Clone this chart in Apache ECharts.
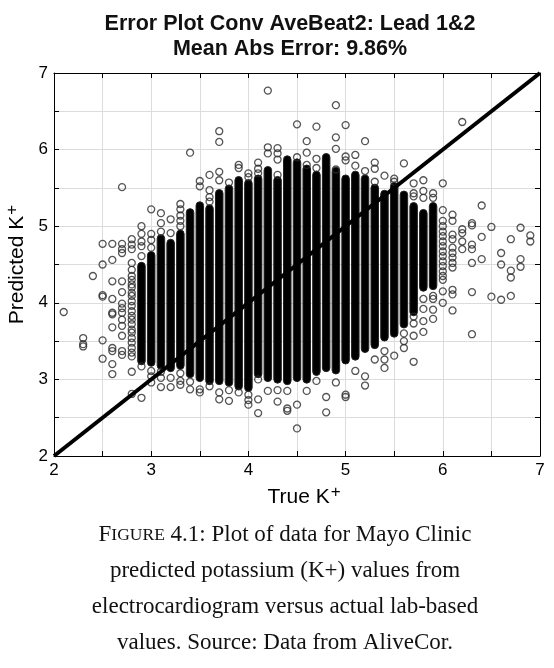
<!DOCTYPE html>
<html>
<head>
<meta charset="utf-8">
<script src="https://cdn.jsdelivr.net/npm/echarts@6/dist/echarts.min.js"></script>
<style>
  html, body { margin: 0; padding: 0; background: #fff; }
  #chart { width: 554px; height: 668px; }
</style>
</head>
<body>
<div id="chart"></div>
<script>
// dense columns: true K+ value, lowest and highest predicted value of the solid stack
var denseX  = [2.9, 3.0, 3.1, 3.2, 3.3, 3.4, 3.5, 3.6, 3.7, 3.8, 3.9, 4.0, 4.1, 4.2, 4.3, 4.4,
               4.5, 4.6, 4.7, 4.8, 4.9, 5.0, 5.1, 5.2, 5.3, 5.4, 5.5, 5.6, 5.7, 5.8, 5.9];
var denseLo = [3.24, 3.22, 3.18, 3.15, 3.18, 3.07, 3.02, 2.98, 2.98, 2.96, 2.91, 2.89, 3.07, 3.02, 3.0, 2.98,
               3.02, 3.0, 3.1, 3.15, 3.12, 3.25, 3.3, 3.4, 3.45, 3.55, 3.6, 3.72, 3.88, 4.2, 4.22];
var denseHi = [4.48, 4.62, 4.84, 4.78, 4.90, 5.18, 5.27, 5.23, 5.43, 5.49, 5.60, 5.56, 5.62, 5.73, 5.60, 5.87,
               5.83, 5.75, 5.67, 5.90, 5.72, 5.62, 5.67, 5.62, 5.50, 5.42, 5.52, 5.41, 5.26, 5.17, 5.26];

// single circles on the low K+ side
var leftPoints = [
  [2.1, 3.88], [2.3, 3.54], [2.3, 3.46], [2.3, 3.43], [2.4, 4.35],
  [2.5, 4.77], [2.5, 4.50], [2.5, 4.10], [2.5, 4.08], [2.5, 3.51], [2.5, 3.27],
  [2.6, 4.77], [2.6, 4.56], [2.6, 4.28], [2.6, 4.05], [2.6, 3.87], [2.6, 3.85], [2.6, 3.68],
  [2.6, 3.41], [2.6, 3.37], [2.6, 3.20], [2.6, 3.07],
  [2.7, 5.51], [2.7, 4.77], [2.7, 4.70], [2.7, 4.65], [2.7, 4.28], [2.7, 4.14], [2.7, 3.99],
  [2.7, 3.93], [2.7, 3.87], [2.7, 3.78], [2.7, 3.70], [2.7, 3.57], [2.7, 3.37], [2.7, 3.32],
  [2.8, 4.83], [2.8, 4.76], [2.8, 4.70], [2.8, 4.52], [2.8, 4.43], [2.8, 4.35], [2.8, 4.30],
  [2.8, 4.24], [2.8, 4.20], [2.8, 4.13], [2.8, 4.09], [2.8, 4.02], [2.8, 3.96], [2.8, 3.89],
  [2.8, 3.83], [2.8, 3.78], [2.8, 3.72], [2.8, 3.65], [2.8, 3.61], [2.8, 3.54], [2.8, 3.48],
  [2.8, 3.41], [2.8, 3.35], [2.8, 3.30], [2.8, 3.10], [2.8, 2.81]
];

// circles above the solid stacks
var upperPoints = [
  [2.9, 5.00], [2.9, 4.90], [2.9, 4.80], [2.9, 4.74], [2.9, 4.61],
  [3.0, 5.22], [3.0, 4.90], [3.0, 4.82], [3.0, 4.72],
  [3.1, 5.17], [3.1, 5.04], [3.1, 4.93], [3.2, 5.09], [3.2, 4.91],
  [3.3, 5.29], [3.3, 5.22], [3.3, 5.14], [3.3, 5.07], [3.3, 5.00],
  [3.4, 5.96], [3.5, 5.59], [3.5, 5.52],
  [3.6, 5.67], [3.6, 5.47], [3.6, 5.38], [3.6, 5.32],
  [3.7, 6.24], [3.7, 6.10], [3.7, 5.71], [3.7, 5.60], [3.8, 5.57],
  [3.9, 5.80], [3.9, 5.76], [4.0, 5.69], [4.0, 5.64],
  [4.1, 5.83], [4.1, 5.75], [4.1, 5.69], [4.2, 6.77], [4.2, 6.03], [4.2, 5.95],
  [4.3, 6.02], [4.3, 5.95], [4.3, 5.87], [4.3, 5.67], [4.5, 6.33], [4.5, 5.90],
  [4.6, 6.11], [4.6, 5.96], [4.6, 5.80], [4.7, 6.30], [4.7, 5.88], [4.7, 5.76],
  [4.9, 6.58], [4.9, 6.16], [4.9, 6.01], [4.9, 5.74],
  [5.0, 6.32], [5.0, 5.91], [5.0, 5.86], [5.1, 5.93], [5.1, 5.79],
  [5.2, 6.11], [5.2, 5.72], [5.3, 5.83], [5.3, 5.75], [5.3, 5.58],
  [5.4, 5.66], [5.5, 5.62], [5.5, 5.58], [5.6, 5.82],
  [5.7, 5.56], [5.7, 5.43], [5.7, 5.39], [5.8, 5.60], [5.8, 5.46], [5.8, 5.37],
  [5.9, 5.43], [5.9, 5.37]
];

// circles below the solid stacks
var lowerPoints = [
  [2.9, 3.17], [2.9, 2.76], [3.0, 3.11], [3.0, 3.04], [3.0, 2.96],
  [3.1, 3.10], [3.1, 3.02], [3.1, 2.90], [3.2, 3.02], [3.2, 2.90],
  [3.3, 3.08], [3.3, 2.98], [3.3, 2.93], [3.4, 2.97], [3.4, 2.87],
  [3.5, 2.87], [3.5, 2.83], [3.6, 2.91], [3.7, 2.83], [3.7, 2.74],
  [3.8, 2.86], [3.8, 2.72], [3.9, 2.83], [4.0, 2.80], [4.0, 2.73], [4.0, 2.67],
  [4.1, 3.00], [4.1, 2.74], [4.1, 2.56], [4.2, 2.85], [4.3, 2.86], [4.3, 2.71],
  [4.4, 2.85], [4.4, 2.62], [4.4, 2.59], [4.5, 2.67], [4.5, 2.36], [4.6, 2.85],
  [4.7, 2.98], [4.8, 2.77], [4.8, 2.57], [4.9, 2.96], [5.0, 2.80], [5.0, 2.77],
  [5.1, 3.11], [5.2, 3.04], [5.2, 2.92], [5.3, 3.26],
  [5.4, 3.37], [5.4, 3.26], [5.4, 3.15], [5.5, 3.31],
  [5.6, 3.60], [5.6, 3.50], [5.6, 3.41], [5.7, 3.82], [5.7, 3.73], [5.7, 3.57], [5.7, 3.23],
  [5.8, 4.05], [5.8, 3.92], [5.8, 3.76], [5.8, 3.62], [5.9, 4.09], [5.9, 4.05], [5.9, 3.91], [5.9, 3.79]
];

// circles on the high K+ side
var rightPoints = [
  [6.0, 5.56], [6.0, 5.21], [6.0, 5.07], [6.0, 5.00], [6.0, 4.93], [6.0, 4.87], [6.0, 4.80],
  [6.0, 4.74], [6.0, 4.67], [6.0, 4.61], [6.0, 4.54], [6.0, 4.48], [6.0, 4.41], [6.0, 4.35],
  [6.0, 4.30], [6.0, 4.15], [6.0, 4.00],
  [6.1, 5.15], [6.1, 5.07], [6.1, 4.89], [6.1, 4.83], [6.1, 4.72], [6.1, 4.65], [6.1, 4.59],
  [6.1, 4.52], [6.1, 4.46], [6.1, 4.17], [6.1, 4.11], [6.1, 3.90],
  [6.2, 6.36], [6.2, 4.96], [6.2, 4.91], [6.2, 4.80], [6.2, 4.70],
  [6.3, 5.04], [6.3, 5.01], [6.3, 4.76], [6.3, 4.70], [6.3, 4.52], [6.3, 4.14], [6.3, 3.59],
  [6.4, 5.27], [6.4, 4.86], [6.4, 4.57], [6.5, 4.99], [6.5, 4.08],
  [6.6, 4.65], [6.6, 4.50], [6.6, 4.04], [6.7, 4.83], [6.7, 4.42], [6.7, 4.33], [6.7, 4.09],
  [6.8, 4.98], [6.8, 4.57], [6.8, 4.47], [6.9, 4.88], [6.9, 4.80]
];

var identityLine = [[2, 2], [7, 7]];

var captionLines = [
  '{sc1|F}{sc2|IGURE} 4.1: Plot of data for Mayo Clinic',
  'predicted potassium (K+) values from',
  'electrocardiogram versus actual lab-based',
  'values. Source: Data from AliveCor.'
];

var denseData = denseX.map(function (x, i) { return [x, denseLo[i], denseHi[i]]; });
var circles = leftPoints.concat(upperPoints, lowerPoints, rightPoints);

var sansFont = '"Liberation Sans", Arial, sans-serif';
var serifFont = '"Liberation Serif", "Times New Roman", serif';

var axisCommon = function (pos, showLabel) {
  return {
    type: 'value', position: pos, min: 2, max: 7, interval: 0.5,
    axisLine: { show: true, onZero: false, lineStyle: { color: '#000', width: 1 } },
    axisTick: { show: true, inside: true, length: 5, lineStyle: { color: '#000' } },
    axisLabel: {
      show: showLabel, color: '#000', fontSize: 17, fontFamily: sansFont, margin: 6,
      formatter: function (v) { return v % 1 === 0 ? String(v) : ''; }
    },
    splitLine: { show: showLabel, lineStyle: { color: '#dcdcdc', width: 1 } }
  };
};

var supRich = { sup: { fontSize: 17, fontFamily: sansFont, color: '#000', padding: [0, 0, 10, 1] } };

var xMain = axisCommon('bottom', true);
xMain.name = 'True K{sup|+}';
xMain.nameLocation = 'middle';
xMain.nameGap = 27;
xMain.nameTextStyle = { color: '#000', fontSize: 21, fontFamily: sansFont, rich: supRich, padding: [0, 0, 0, 14] };
var yMain = axisCommon('left', true);
yMain.name = 'Predicted K{sup|+}';
yMain.nameLocation = 'middle';
yMain.nameGap = 23;
yMain.nameTextStyle = { color: '#000', fontSize: 21, fontFamily: sansFont, rich: supRich };
var xTop = axisCommon('top', false);
var yRight = axisCommon('right', false);

var myChart = echarts.init(document.getElementById('chart'), null, { renderer: 'canvas' });

myChart.setOption({
  animation: false,
  backgroundColor: '#fff',
  title: {
    text: 'Error Plot Conv AveBeat2: Lead 1&2\nMean Abs Error: 9.86%',
    left: 285, top: 7, textAlign: 'center',
    textStyle: { fontSize: 21.5, fontWeight: 'bold', fontFamily: sansFont, color: '#111', lineHeight: 25 }
  },
  grid: { left: 54, right: 14, top: 73, bottom: 212, outerBoundsMode: 'none', containLabel: false },
  xAxis: [xMain, xTop],
  yAxis: [yMain, yRight],
  series: [
    {
      name: 'dense',
      type: 'custom',
      xAxisIndex: 0, yAxisIndex: 0,
      data: denseData,
      encode: { x: 0, y: [1, 2] },
      renderItem: function (params, api) {
        var top = api.coord([api.value(0), api.value(2)]);
        var bot = api.coord([api.value(0), api.value(1)]);
        var w = 7.5;
        return {
          type: 'rect',
          shape: { x: top[0] - w / 2, y: top[1] - w / 2, width: w, height: bot[1] - top[1] + w, r: w / 2 },
          style: { fill: '#000', stroke: '#222', lineWidth: 1 }
        };
      },
      z: 2
    },
    {
      name: 'circles',
      type: 'scatter',
      xAxisIndex: 0, yAxisIndex: 0,
      data: circles,
      symbol: 'circle',
      symbolSize: 7,
      itemStyle: { color: 'rgba(0,0,0,0)', borderColor: '#2a2a2a', borderWidth: 1.3 },
      z: 3
    },
    {
      name: 'identity',
      type: 'line',
      xAxisIndex: 0, yAxisIndex: 0,
      data: identityLine,
      symbol: 'none',
      lineStyle: { color: '#000', width: 4 },
      z: 4
    }
  ],
  graphic: captionLines.map(function (line, i) {
    return {
      type: 'text',
      x: 285,
      y: 535 + i * 36,
      style: {
        text: line,
        font: '23px ' + serifFont,
        fill: '#111',
        textAlign: 'center', textVerticalAlign: 'middle',
        align: 'center', verticalAlign: 'middle',
        rich: {
          sc1: { fontSize: 23, fontFamily: serifFont, fill: '#111' },
          sc2: { fontSize: 17.5, fontFamily: serifFont, fill: '#111' }
        }
      }
    };
  })
});
</script>
</body>
</html>
